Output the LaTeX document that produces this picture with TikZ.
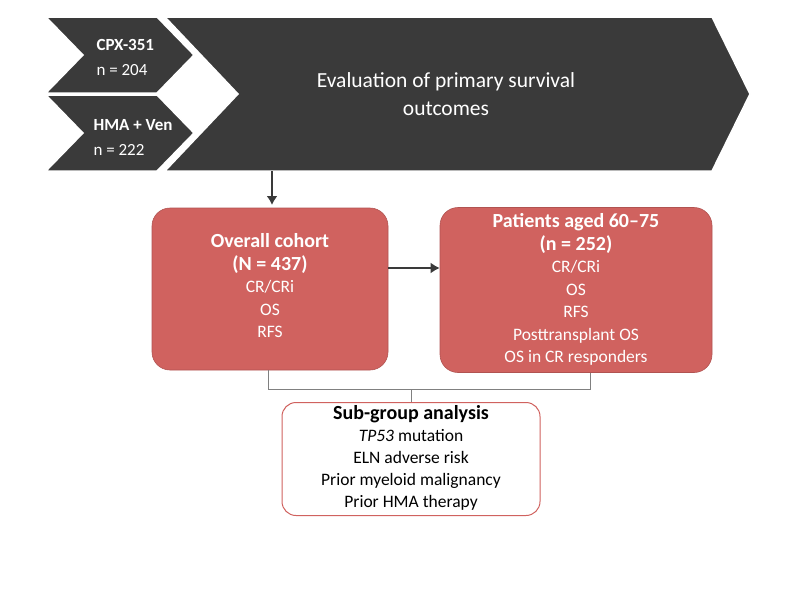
\documentclass[tikz,border=0pt]{standalone}
\usepackage{fontspec}
\setmainfont{Carlito}
\usetikzlibrary{arrows.meta}
\definecolor{dark}{HTML}{3A3A3A}
\definecolor{rbox}{HTML}{D0625F}
\begin{document}
\begin{tikzpicture}[x=1pt,y=-1pt,
  chev/.style={fill=dark,draw=white,line width=1.5pt},
  rb/.style={fill=rbox,draw=rbox!85!black,rounded corners=18pt,line width=0.6pt},
  wt/.style={text=white,align=center,font=\fontsize{17.5}{22.5}\selectfont},
  arr/.style={draw=dark,line width=2.5pt,-{Latex[length=9pt,width=11pt]}}]
\useasboundingbox (0,0) rectangle (800,600);
\fill[chev] (165,17) -- (712,17) -- (750,94) -- (712,171) -- (165,171) -- (238,94) -- cycle;
\fill[chev] (46,17) -- (157,17) -- (194,55) -- (157,93) -- (46,93) -- (83,55) -- cycle;
\fill[chev] (46,95) -- (157,95) -- (194,133) -- (157,171) -- (46,171) -- (83,133) -- cycle;
\node[wt,align=left,anchor=west,font=\fontsize{17}{25}\selectfont] (c1) at (93,57) {\textbf{CPX-351}\\n = 204};
\node[wt,align=left,anchor=west,font=\fontsize{17}{25}\selectfont] (c2) at (90,137) {\textbf{HMA + Ven}\\n = 222};
\node[wt,font=\fontsize{21.5}{28}\selectfont] (ev) at (446,94) {Evaluation of primary survival\\outcomes};
\coordinate (top) at (272,171);
\node[rb,minimum width=236pt,minimum height=162pt] (b1) at (270,289) {};
\node[wt,anchor=north] (t1) at (270,230) {\textbf{\fontsize{20}{24}\selectfont Overall cohort}\\\textbf{\fontsize{20}{24}\selectfont (N = 437)}\\CR/CRi\\OS\\RFS};
\node[rb,minimum width=272pt,minimum height=165pt] (b2) at (576,290) {};
\node[wt,anchor=north] (t2) at (576,210) {\textbf{\fontsize{20}{24}\selectfont Patients aged 60–75}\\\textbf{\fontsize{20}{24}\selectfont (n = 252)}\\CR/CRi\\OS\\RFS\\Posttransplant OS\\OS in CR responders};
\draw[arr] (top) -- (272,205);
\draw[arr] (b1.east|-0,268) -- (b2.west|-0,268);
\node[draw=rbox,fill=white,rounded corners=14pt,line width=1pt,minimum width=258pt,minimum height=113pt] (sg) at (411,459) {};
\node[align=center,anchor=north,font=\fontsize{17.5}{22}\selectfont] (st) at (411,402) {\textbf{\fontsize{20}{24}\selectfont Sub-group analysis}\\\textit{TP53} mutation\\ELN adverse risk\\Prior myeloid malignancy\\Prior HMA therapy};
\draw[gray,line width=0.6pt] (268,370) -- (268,389) -- (590,389) -- (590,373);
\draw[gray,line width=0.6pt] (411,389) -- (sg.north);
\end{tikzpicture}
\end{document}
